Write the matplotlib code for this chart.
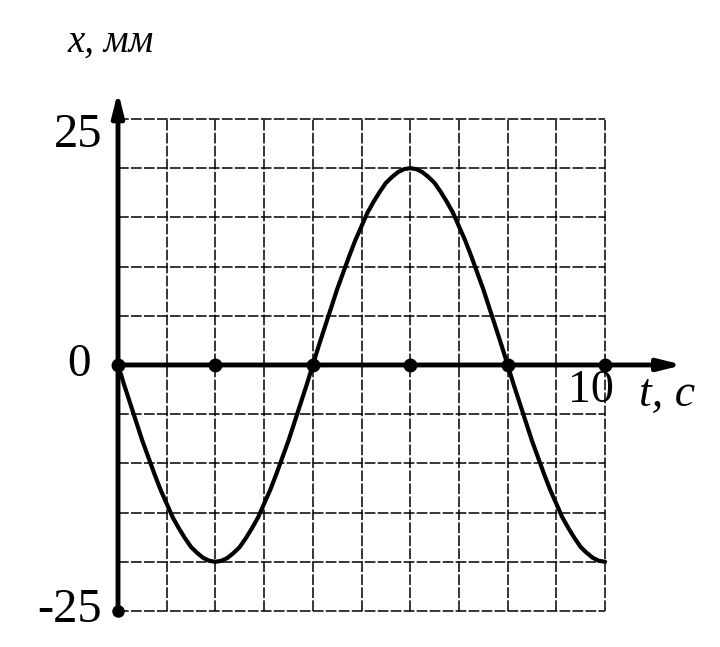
import matplotlib
matplotlib.use("Agg")
import matplotlib.pyplot as plt

# Data (t in s, x in mm)
t_values = [i * 0.125 for i in range(81)]
x_values = [0, -2.0, -3.9, -5.8, -7.7, -9.4, -11.1, -12.7, -14.1, -15.5, -16.6, -17.6, -18.5, -19.1, -19.6, -19.9, -20,
            -19.9, -19.6, -19.1, -18.5, -17.6, -16.6, -15.5, -14.1, -12.7, -11.1, -9.4, -7.7, -5.8, -3.9, -2.0, 0,
            2.0, 3.9, 5.8, 7.7, 9.4, 11.1, 12.7, 14.1, 15.5, 16.6, 17.6, 18.5, 19.1, 19.6, 19.9, 20,
            19.9, 19.6, 19.1, 18.5, 17.6, 16.6, 15.5, 14.1, 12.7, 11.1, 9.4, 7.7, 5.8, 3.9, 2.0, 0,
            -2.0, -3.9, -5.8, -7.7, -9.4, -11.1, -12.7, -14.1, -15.5, -16.6, -17.6, -18.5, -19.1, -19.6, -19.9, -20]
dot_t = [0, 2, 4, 6, 8, 10]
grid_t = list(range(0, 11))
grid_x = list(range(-25, 30, 5))
y_tick_labels = {25: "25", 0: "0", -25: "-25"}

fig = plt.figure(figsize=(7.2, 6.47), dpi=100)
ax = fig.add_axes([0, 0, 1, 1])
ax.set_xlim(-2.423, 12.361)
ax.set_ylim(-28.66, 37.09)
ax.axis("off")

serif = ["Liberation Serif", "DejaVu Serif"]

# grid
for gt in grid_t[1:]:
    ax.plot([gt, gt], [-25, 25], color="k", lw=1.1, ls=(0, (7, 1.5)), zorder=1)
for gx in grid_x:
    ax.plot([0, 10], [gx, gx], color="k", lw=1.1, ls=(0, (7, 1.5)), zorder=1)

# curve
ax.plot(t_values, x_values, color="k", lw=3.0, zorder=3,
        solid_capstyle="round", solid_joinstyle="round")

# axes with arrows
ax.annotate("", xy=(11.6, 0), xytext=(0, 0),
            arrowprops=dict(arrowstyle="-|>,head_length=1.4,head_width=0.35",
                            lw=3.5, color="k", shrinkA=0, shrinkB=0), zorder=4)
ax.annotate("", xy=(0, 27.8), xytext=(0, -25),
            arrowprops=dict(arrowstyle="-|>,head_length=1.4,head_width=0.35",
                            lw=3.5, color="k", shrinkA=0, shrinkB=0), zorder=4)

# dots
ax.plot(dot_t, [0] * len(dot_t), "o", color="k", ms=9, zorder=5)
ax.plot([0], [-25], "o", color="k", ms=8, zorder=5)

# labels
ax.text(-0.33, 23.4, y_tick_labels[25], fontsize=35, family=serif,
        ha="right", va="center")
ax.text(-0.55, 0.0, y_tick_labels[0], fontsize=34, family=serif,
        ha="right", va="center")
ax.text(-0.33, -24.9, y_tick_labels[-25], fontsize=35, family=serif,
        ha="right", va="center")
ax.text(9.72, -2.6, "10", fontsize=33, family=serif, ha="center", va="center")
ax.text(10.7, -3.0, "t, c", fontsize=33, family=serif, style="italic",
        ha="left", va="center")
ax.text(-1.03, 32.8, "x, мм", fontsize=28, family=serif, style="italic",
        ha="left", va="center")

fig.savefig("out.png", dpi=100)
